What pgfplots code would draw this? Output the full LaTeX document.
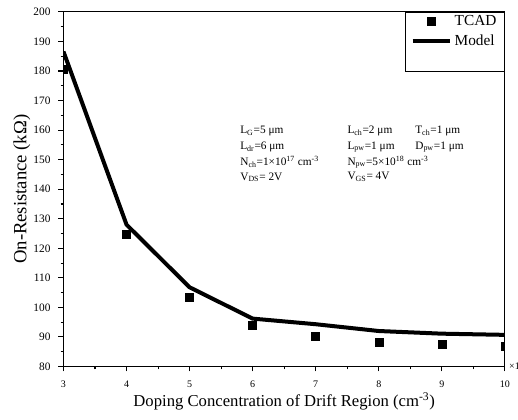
\documentclass[border=0pt]{standalone}
\usepackage{pgfplots}
\pgfplotsset{compat=1.18}
\usepackage{fontspec}
\setmainfont{Liberation Serif}

\begin{document}
\begin{tikzpicture}
\useasboundingbox (-47.6pt,-39.4pt) rectangle (340.9pt,274.85pt);
\begin{axis}[
  name=ax,
  scale only axis, width=331.1pt, height=265.9pt,
  xmin=3, xmax=10, ymin=80, ymax=200,
  xtick={3,...,10}, ytick={80,90,...,200},
  minor x tick num=1, minor y tick num=1,
  tick align=outside, xtick pos=bottom, ytick pos=left,
  major tick length=3.75pt, minor tick length=2.2pt,
  axis line style={line width=0.8pt},
  every tick/.style={black, line width=0.8pt},
  /pgf/number format/assume math mode=true,
  x tick label style={font=\fontsize{7.5}{9}\selectfont, yshift=-3.5pt},
  y tick label style={font=\fontsize{8.5}{10}\selectfont, xshift=-2.5pt},
  xlabel={Doping Concentration of Drift Region (cm\textsuperscript{-3})},
  ylabel={On-Resistance (kΩ)},
  every axis x label/.style={at={(axis description cs:0.5,-0.098)}, anchor=center, font=\fontsize{12.5}{14}\selectfont},
  every axis y label/.style={at={(axis description cs:-0.094,0.5)}, anchor=center, rotate=90, font=\fontsize{14}{16}\selectfont},
  clip marker paths=true,
  legend cell align=left,
  legend image code/.code={\draw[mark repeat=2,mark phase=2,#1] plot coordinates {(0pt,0pt) (14pt,0pt) (28pt,0pt)};},
  legend style={at={(rel axis cs:1,1)}, anchor=north east, draw=black, line width=0.8pt, fill=white,
    font=\fontsize{11.5}{13}\selectfont, inner xsep=4pt, inner ysep=0.5pt, row sep=1pt},
]
% TCAD simulation
\addplot[only marks, mark=square*, mark size=3.0pt, black] coordinates {
  (3,180.7) (4,124.8) (5,103.3) (6,93.9) (7,90.1) (8,88.3) (9,87.5) (10,86.9)};
\addlegendentry{TCAD}
% analytical model
\addplot[black, line width=3pt, mark=none] coordinates {
  (3,186.6) (4,128.0) (5,106.8) (6,96.2) (7,94.3) (8,92.0) (9,91.1) (10,90.7)};
\addlegendentry{Model}
\addlegendimage{empty legend}
\addlegendentry{\strut}

\begin{scope}[every node/.style={anchor=west, inner sep=0pt, font=\fontsize{8.5}{10}\selectfont}]
\node at (axis cs:5.80,159.7) {L\textsubscript{G}=5 μm};
\node at (axis cs:5.80,154.2) {L\textsubscript{dr}=6 μm};
\node at (axis cs:5.80,149.2) {N\textsubscript{ch}=1×10\textsuperscript{17} cm\textsuperscript{-3}};
\node at (axis cs:5.80,144.1) {V\textsubscript{DS}= 2V};
\node at (axis cs:7.50,159.7) {L\textsubscript{ch}=2 μm};
\node at (axis cs:7.50,154.2) {L\textsubscript{pw}=1 μm};
\node at (axis cs:7.50,149.2) {N\textsubscript{pw}=5×10\textsuperscript{18} cm\textsuperscript{-3}};
\node at (axis cs:7.50,144.1) {V\textsubscript{GS}= 4V};
\node at (axis cs:8.575,159.7) {T\textsubscript{ch}=1 μm};
\node at (axis cs:8.575,154.2) {D\textsubscript{pw}=1 μm};
\end{scope}
\end{axis}
\node[anchor=west, inner sep=0pt, font=\fontsize{7.5}{9}\selectfont] at ([xshift=3pt]ax.south east) {×1};
\end{tikzpicture}
\end{document}
